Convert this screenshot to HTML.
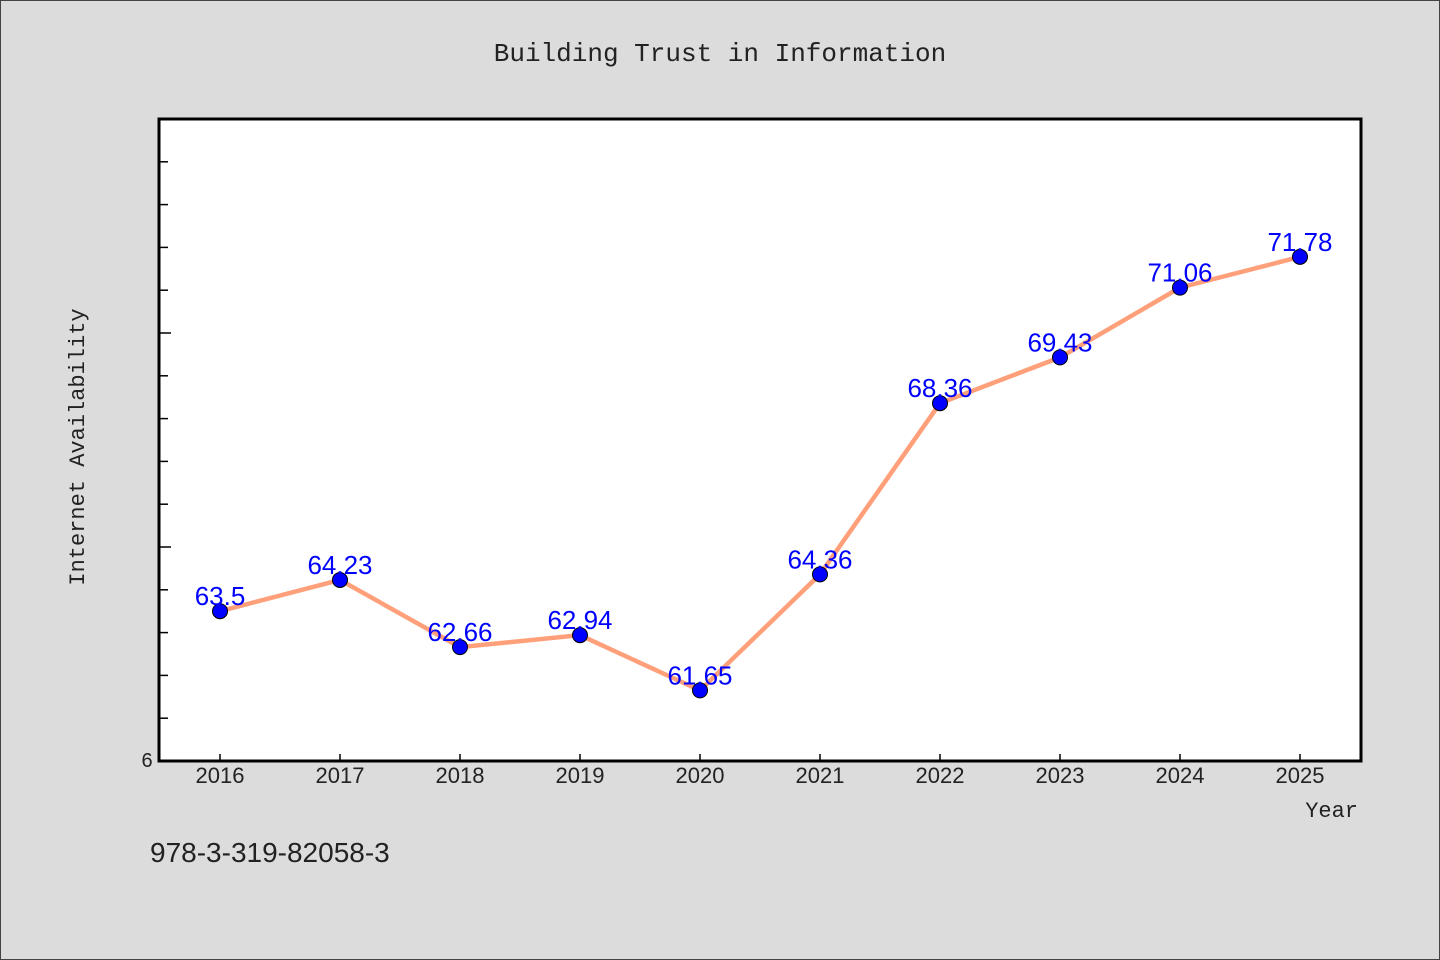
<!DOCTYPE html>
<html><head><meta charset="utf-8"><style>
body{margin:0;background:#dcdcdc;}
svg{display:block;font-family:"Liberation Sans","Noto Sans CJK SC",sans-serif;}
</style></head><body>
<svg id="chart" width="1440" height="960">
<rect x="0.5" y="0.5" width="1439" height="959" fill="#dcdcdc" stroke="#444"/>
<text x="720" y="61" text-anchor="middle" font-family="Liberation Mono, monospace" font-size="26" fill="#222">Building Trust in Information</text>
<rect x="159" y="119" width="1202" height="642" fill="#fff"/>
<g id="ticks"></g>
<g id="series"></g>
<rect x="159" y="119" width="1202" height="642" fill="none" stroke="#000" stroke-width="3"/>
<text x="147" y="767" text-anchor="middle" font-size="20" fill="#222">6</text>
<text transform="translate(84,447) rotate(-90)" text-anchor="middle" font-family="Liberation Mono, monospace" font-size="22" fill="#222">Internet Availability</text>
<text x="1358" y="817" text-anchor="end" font-family="Liberation Mono, monospace" font-size="22" fill="#222">Year</text>
<text x="150" y="862" font-size="28" fill="#222">978-3-319-82058-3</text>
</svg>
<script>
const years=[2016,2017,2018,2019,2020,2021,2022,2023,2024,2025];
const values=[63.5,64.23,62.66,62.94,61.65,64.36,68.36,69.43,71.06,71.78];
const labels=["63.5","64.23","62.66","62.94","61.65","64.36","68.36","69.43","71.06","71.78"];
const yMin=60,yMax=75;
const NS="http://www.w3.org/2000/svg";
const L=159,R=1361,T=119,B=761;
function xs(i){return 220+i*120;}
function ys(v){return B-(v-yMin)/(yMax-yMin)*(B-T);}
function mk(tag,attrs,parent){const e=document.createElementNS(NS,tag);for(const k in attrs)e.setAttribute(k,attrs[k]);parent.appendChild(e);return e;}
const tg=document.getElementById('ticks'),sg=document.getElementById('series');
for(let v=yMin+1;v<yMax;v++){
 const y=ys(v);const len=(v%5===0)?12:9;
 const t=mk('line',{x1:L,x2:L+len,y1:y,y2:y,stroke:'#000','stroke-width':1.5},tg);
 
 
}
years.forEach((yr,i)=>{
 const x=xs(i);
 const t=mk('line',{x1:x,x2:x,y1:B,y2:B-7,stroke:'#000','stroke-width':1.5},tg);
 
 
 const lb=mk('text',{x:x,y:783,'text-anchor':'middle','font-size':22,fill:'#222'},tg);
 lb.textContent=yr;
 
 
});
const pts=values.map((v,i)=>xs(i)+','+ys(v)).join(' ');
const pl=mk('polyline',{points:pts,fill:'none',stroke:'#ffa07a','stroke-width':4.5,'stroke-linejoin':'round'},sg);


values.forEach((v,i)=>{
 const c=mk('circle',{cx:xs(i),cy:ys(v),r:7.5,fill:'#0000ff',stroke:'#000','stroke-width':1},sg);
 
 
 const t=mk('text',{x:xs(i),y:ys(v)-6,'text-anchor':'middle','font-size':26,fill:'#0000ff'},sg);
 t.textContent=labels[i];
 
 
});
</script>
</body></html>
